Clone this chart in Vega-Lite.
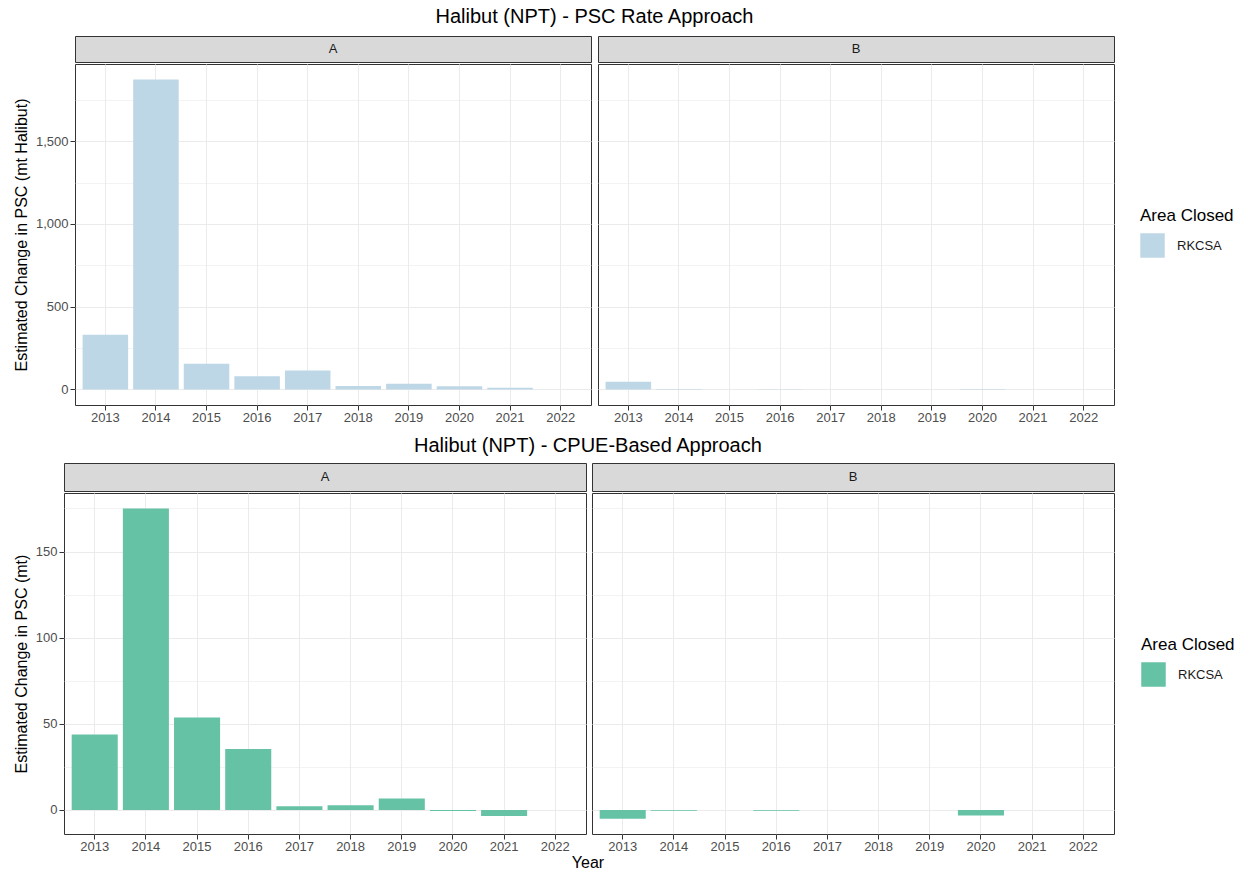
{
  "$schema": "https://vega.github.io/schema/vega-lite/v6.json",
  "padding": {"left": 11, "top": 6, "right": 3, "bottom": 1},
  "background": "white",
  "datasets": {
    "psc": [
      {"panel": "A", "year": 2013, "value": 330, "area": "RKCSA"},
      {"panel": "A", "year": 2014, "value": 1873, "area": "RKCSA"},
      {"panel": "A", "year": 2015, "value": 155, "area": "RKCSA"},
      {"panel": "A", "year": 2016, "value": 80, "area": "RKCSA"},
      {"panel": "A", "year": 2017, "value": 114, "area": "RKCSA"},
      {"panel": "A", "year": 2018, "value": 21, "area": "RKCSA"},
      {"panel": "A", "year": 2019, "value": 35, "area": "RKCSA"},
      {"panel": "A", "year": 2020, "value": 19, "area": "RKCSA"},
      {"panel": "A", "year": 2021, "value": 10, "area": "RKCSA"},
      {"panel": "A", "year": 2022, "value": 0, "area": "RKCSA"},
      {"panel": "B", "year": 2013, "value": 46, "area": "RKCSA"},
      {"panel": "B", "year": 2014, "value": 3, "area": "RKCSA"},
      {"panel": "B", "year": 2015, "value": 0.3, "area": "RKCSA"},
      {"panel": "B", "year": 2016, "value": 0.5, "area": "RKCSA"},
      {"panel": "B", "year": 2017, "value": 0.3, "area": "RKCSA"},
      {"panel": "B", "year": 2018, "value": 0.2, "area": "RKCSA"},
      {"panel": "B", "year": 2019, "value": 0.2, "area": "RKCSA"},
      {"panel": "B", "year": 2020, "value": 3, "area": "RKCSA"},
      {"panel": "B", "year": 2021, "value": 0.2, "area": "RKCSA"},
      {"panel": "B", "year": 2022, "value": 0, "area": "RKCSA"}
    ],
    "cpue": [
      {"panel": "A", "year": 2013, "value": 43.8, "area": "RKCSA"},
      {"panel": "A", "year": 2014, "value": 175, "area": "RKCSA"},
      {"panel": "A", "year": 2015, "value": 53.6, "area": "RKCSA"},
      {"panel": "A", "year": 2016, "value": 35.3, "area": "RKCSA"},
      {"panel": "A", "year": 2017, "value": 2.1, "area": "RKCSA"},
      {"panel": "A", "year": 2018, "value": 2.7, "area": "RKCSA"},
      {"panel": "A", "year": 2019, "value": 6.6, "area": "RKCSA"},
      {"panel": "A", "year": 2020, "value": -0.6, "area": "RKCSA"},
      {"panel": "A", "year": 2021, "value": -3.6, "area": "RKCSA"},
      {"panel": "A", "year": 2022, "value": 0, "area": "RKCSA"},
      {"panel": "B", "year": 2013, "value": -5.2, "area": "RKCSA"},
      {"panel": "B", "year": 2014, "value": -0.5, "area": "RKCSA"},
      {"panel": "B", "year": 2015, "value": 0, "area": "RKCSA"},
      {"panel": "B", "year": 2016, "value": -0.5, "area": "RKCSA"},
      {"panel": "B", "year": 2017, "value": 0, "area": "RKCSA"},
      {"panel": "B", "year": 2018, "value": 0, "area": "RKCSA"},
      {"panel": "B", "year": 2019, "value": 0, "area": "RKCSA"},
      {"panel": "B", "year": 2020, "value": -3.2, "area": "RKCSA"},
      {"panel": "B", "year": 2021, "value": 0, "area": "RKCSA"},
      {"panel": "B", "year": 2022, "value": 0, "area": "RKCSA"}
    ],
    "strips": [{"panel": "A"}, {"panel": "B"}]
  },
  "config": {
    "font": "Liberation Sans",
    "axis": {
      "gridColor": "#ebebeb",
      "domain": false,
      "tickColor": "#333333",
      "tickSize": 5,
      "labelColor": "#4d4d4d",
      "labelFontSize": 13,
      "labelFont": "Liberation Sans",
      "titleFont": "Liberation Sans",
      "titleFontWeight": "normal",
      "titleFontSize": 16,
      "titleColor": "#000000",
      "titlePadding": 6,
      "labelPadding": 2
    },
    "axisX": {"labelPadding": 1},
    "legend": {
      "titleFont": "Liberation Sans",
      "titleFontSize": 17,
      "titleFontWeight": "normal",
      "titleColor": "#000000",
      "labelFont": "Liberation Sans",
      "labelFontSize": 13,
      "labelColor": "#1a1a1a",
      "symbolType": "square",
      "symbolSize": 600,
      "symbolStrokeWidth": 0,
      "symbolOpacity": 1,
      "labelOffset": 12,
      "titlePadding": 8
    },
    "title": {"font": "Liberation Sans", "fontSize": 20, "fontWeight": "normal", "color": "#000000", "anchor": "middle"},
    "view": {"stroke": "#333333"}
  },
  "title": {"text": "Year", "orient": "bottom", "fontSize": 16, "anchor": "middle", "dx": -35, "offset": 1},
  "resolve": {"scale": {"color": "independent"}},
  "columns": 2,
  "align": "none",
  "spacing": {"row": 10, "column": 0},
  "concat": [
    {
      "width": 1, "height": 1,
      "data": {"name": "strips"},
      "transform": [{"filter": "false"}],
      "mark": {"type": "text"},
      "encoding": {"text": {"field": "panel"}},
      "view": {"stroke": null}
    },
    {
      "title": {"text": "Halibut (NPT) - PSC Rate Approach", "anchor": "middle", "dx": -29, "offset": 9},
      "columns": 2,
      "spacing": {"row": 0, "column": 5},
      "concat": [
        {
          "width": 516, "height": 26,
          "data": {"name": "strips"},
          "transform": [{"filter": "datum.panel === 'A'"}],
          "mark": {"type": "text", "fontSize": 13, "color": "#1a1a1a"},
          "encoding": {"text": {"field": "panel"}},
          "view": {"fill": "#d9d9d9", "stroke": "#333333"}
        },
        {
          "width": 516, "height": 26,
          "data": {"name": "strips"},
          "transform": [{"filter": "datum.panel === 'B'"}],
          "mark": {"type": "text", "fontSize": 13, "color": "#1a1a1a"},
          "encoding": {"text": {"field": "panel"}},
          "view": {"fill": "#d9d9d9", "stroke": "#333333"}
        },
        {
          "width": 516, "height": 341,
          "data": {"name": "psc"},
          "transform": [{"filter": "datum.panel === 'A'"}],
          "mark": {"type": "bar"},
          "encoding": {
            "x": {"field": "year", "type": "ordinal", "scale": {"paddingInner": 0.1, "paddingOuter": 0.15}, "axis": {"title": null, "labelAngle": 0, "bandPosition": 0.5, "grid": true}},
            "y": {"field": "value", "type": "quantitative", "scale": {"domain": [-94, 1967], "nice": false},
              "axis": {"title": "Estimated Change in PSC (mt Halibut)", "values": [0, 250, 500, 750, 1000, 1250, 1500, 1750],
                "labelExpr": "datum.value % 500 === 0 ? format(datum.value, ',') : ''",
                "tickOpacity": {"condition": {"test": "datum.value % 500 !== 0", "value": 0}, "value": 1},
                "gridWidth": {"condition": {"test": "datum.value % 500 !== 0", "value": 0.6}, "value": 1.1}}},
            "color": {"field": "area", "type": "nominal", "scale": {"range": ["#bdd7e6"]},
              "legend": {"title": "Area Closed", "orient": "none", "legendX": 1065, "legendY": 172}}
          }
        },
        {
          "width": 516, "height": 341,
          "data": {"name": "psc"},
          "transform": [{"filter": "datum.panel === 'B'"}],
          "mark": {"type": "bar"},
          "encoding": {
            "x": {"field": "year", "type": "ordinal", "scale": {"paddingInner": 0.1, "paddingOuter": 0.15}, "axis": {"title": null, "labelAngle": 0, "bandPosition": 0.5, "grid": true}},
            "y": {"field": "value", "type": "quantitative", "scale": {"domain": [-94, 1967], "nice": false},
              "axis": {"title": null, "labels": false, "ticks": false, "values": [0, 250, 500, 750, 1000, 1250, 1500, 1750],
                "gridWidth": {"condition": {"test": "datum.value % 500 !== 0", "value": 0.6}, "value": 1.1}}},
            "color": {"field": "area", "type": "nominal", "scale": {"range": ["#bdd7e6"]}}
          }
        }
      ]
    },
    {
      "width": 1, "height": 1,
      "data": {"name": "strips"},
      "transform": [{"filter": "false"}],
      "mark": {"type": "text"},
      "encoding": {"text": {"field": "panel"}},
      "view": {"stroke": null}
    },
    {
      "title": {"text": "Halibut (NPT) - CPUE-Based Approach", "anchor": "middle", "dx": -36, "offset": 7},
      "columns": 2,
      "spacing": {"row": 0, "column": 4},
      "concat": [
        {
          "width": 522, "height": 28,
          "data": {"name": "strips"},
          "transform": [{"filter": "datum.panel === 'A'"}],
          "mark": {"type": "text", "fontSize": 13, "color": "#1a1a1a"},
          "encoding": {"text": {"field": "panel"}},
          "view": {"fill": "#d9d9d9", "stroke": "#333333"}
        },
        {
          "width": 522, "height": 28,
          "data": {"name": "strips"},
          "transform": [{"filter": "datum.panel === 'B'"}],
          "mark": {"type": "text", "fontSize": 13, "color": "#1a1a1a"},
          "encoding": {"text": {"field": "panel"}},
          "view": {"fill": "#d9d9d9", "stroke": "#333333"}
        },
        {
          "width": 522, "height": 341,
          "data": {"name": "cpue"},
          "transform": [{"filter": "datum.panel === 'A'"}],
          "mark": {"type": "bar"},
          "encoding": {
            "x": {"field": "year", "type": "ordinal", "scale": {"paddingInner": 0.1, "paddingOuter": 0.15}, "axis": {"title": null, "labelAngle": 0, "bandPosition": 0.5, "grid": true}},
            "y": {"field": "value", "type": "quantitative", "scale": {"domain": [-14, 184], "nice": false},
              "axis": {"title": "Estimated Change in PSC (mt)", "values": [0, 25, 50, 75, 100, 125, 150, 175],
                "labelExpr": "datum.value % 50 === 0 ? format(datum.value, ',') : ''",
                "tickOpacity": {"condition": {"test": "datum.value % 50 !== 0", "value": 0}, "value": 1},
                "gridWidth": {"condition": {"test": "datum.value % 50 !== 0", "value": 0.6}, "value": 1.1}}},
            "color": {"field": "area", "type": "nominal", "scale": {"range": ["#66c2a5"]},
              "legend": {"title": "Area Closed", "orient": "none", "legendX": 1077, "legendY": 174}}
          }
        },
        {
          "width": 522, "height": 341,
          "data": {"name": "cpue"},
          "transform": [{"filter": "datum.panel === 'B'"}],
          "mark": {"type": "bar"},
          "encoding": {
            "x": {"field": "year", "type": "ordinal", "scale": {"paddingInner": 0.1, "paddingOuter": 0.15}, "axis": {"title": null, "labelAngle": 0, "bandPosition": 0.5, "grid": true}},
            "y": {"field": "value", "type": "quantitative", "scale": {"domain": [-14, 184], "nice": false},
              "axis": {"title": null, "labels": false, "ticks": false, "values": [0, 25, 50, 75, 100, 125, 150, 175],
                "gridWidth": {"condition": {"test": "datum.value % 50 !== 0", "value": 0.6}, "value": 1.1}}},
            "color": {"field": "area", "type": "nominal", "scale": {"range": ["#66c2a5"]}}
          }
        }
      ]
    }
  ]
}
